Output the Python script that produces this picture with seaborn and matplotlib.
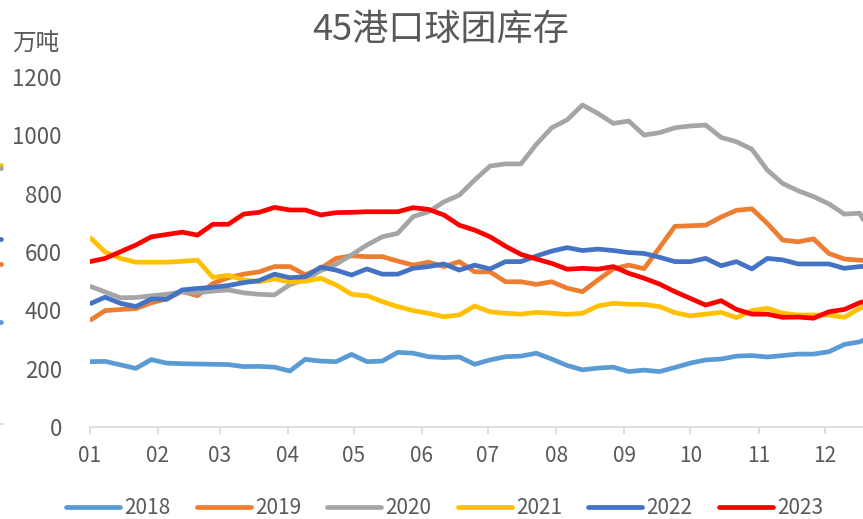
import numpy as np
import pandas as pd
import matplotlib
matplotlib.use("Agg")
import matplotlib.pyplot as plt
from matplotlib.lines import Line2D
import seaborn as sns

# ---------------- data ----------------
years = ["2018", "2019", "2020", "2021", "2022", "2023"]
week_dates = pd.date_range("2023-01-01", periods=52, freq="7D")
month_labels = ["01", "02", "03", "04", "05", "06", "07", "08", "09", "10", "11", "12"]
month_starts = pd.date_range("2023-01-01", periods=12, freq="MS")

v2018 = [224, 225, 213, 201, 231, 219, 217, 216, 215, 214,
         207, 208, 205, 192, 232, 226, 224, 249, 224, 226,
         256, 253, 241, 238, 240, 215, 230, 241, 243, 253,
         233, 211, 196, 202, 205, 190, 195, 190, 204, 219,
         230, 233, 243, 245, 240, 245, 250, 250, 258, 283,
         292, 315]
v2019 = [365, 399, 403, 406, 426, 439, 465, 450, 492, 512,
         524, 532, 550, 550, 522, 544, 578, 587, 584, 584,
         569, 555, 565, 550, 567, 532, 532, 498, 498, 489,
         498, 476, 464, 504, 542, 555, 543, 615, 688, 690,
         692, 720, 743, 748, 698, 641, 635, 645, 595, 576,
         572, 570]
v2020 = [483, 463, 443, 444, 450, 455, 463, 460, 466, 470,
         460, 455, 453, 488, 506, 536, 558, 590, 624, 652,
         664, 721, 738, 772, 795, 847, 895, 902, 902, 969,
         1026, 1053, 1104, 1075, 1041, 1049, 1001, 1009, 1026, 1032,
         1035, 993, 978, 952, 881, 835, 810, 790, 765, 730,
         733, 640]
v2021 = [651, 600, 578, 565, 565, 565, 568, 572, 513, 520,
         504, 498, 508, 497, 500, 510, 487, 455, 450, 430,
         413, 399, 390, 378, 384, 415, 395, 390, 387, 393,
         390, 386, 390, 415, 424, 421, 420, 413, 392, 381,
         387, 393, 375, 399, 407, 390, 384, 384, 384, 376,
         407, 425]
v2022 = [422, 445, 424, 413, 439, 438, 470, 475, 479, 485,
         495, 502, 524, 512, 515, 548, 538, 521, 542, 524,
         524, 544, 550, 559, 538, 555, 542, 567, 567, 586,
         603, 615, 605, 610, 605, 598, 595, 582, 567, 567,
         578, 553, 567, 542, 578, 573, 559, 559, 559, 544,
         550, 552]
v2023 = [567, 578, 601, 624, 652, 660, 668, 658, 695, 695,
         730, 736, 753, 744, 744, 727, 735, 736, 738, 738,
         738, 752, 746, 727, 692, 675, 652, 620, 592, 576,
         561, 541, 544, 541, 550, 527, 510, 490, 464, 441,
         418, 433, 403, 387, 387, 376, 377, 373, 395, 403,
         426, 440]

colors = ["#5B9BD5", "#ED7D31", "#A5A5A5", "#FFC000", "#4472C4", "#FF0000"]
y_ticks = [0, 200, 400, 600, 800, 1000, 1200]

# ---------------- build table ----------------
series = [v2018, v2019, v2020, v2021, v2022, v2023]
day_of_year = (week_dates - week_dates[0]).days.values
rows = []
for yr, vals in zip(years, series):
    for d, v in zip(day_of_year, vals):
        rows.append({"day": d, "value": v, "year": yr})
df = pd.DataFrame(rows)
month_pos = (month_starts - week_dates[0]).days.values

# ---------------- plot ----------------
sns.set_theme(style="white")
plt.rcParams["font.family"] = ["Noto Sans CJK SC", "DejaVu Sans"]

W, H = 863, 519
fig = plt.figure(figsize=(W / 100, H / 100), dpi=100)
left_px, right_px, top_px, bot_px = 89.7, 863, 77, 427
ax = fig.add_axes([left_px / W, 1 - bot_px / H, (right_px - left_px) / W, (bot_px - top_px) / H])

LW = 3.4
sns.lineplot(data=df, x="day", y="value", hue="year", hue_order=years,
             palette=colors, linewidth=LW, legend=False, ax=ax,
             solid_joinstyle="round", solid_capstyle="butt")

ax.set_xlim(0, (right_px - left_px) / 2.2)
ax.set_ylim(0, 1200)
ax.set_yticks(y_ticks)
ax.set_yticklabels([str(t) for t in y_ticks])
ax.set_xticks(month_pos)
ax.set_xticklabels(month_labels)
ax.set_xlabel("")
ax.set_ylabel("")
for s in ["left", "right", "top"]:
    ax.spines[s].set_visible(False)
ax.spines["bottom"].set_color("#D9D9D9")
ax.spines["bottom"].set_linewidth(1.2)
ax.grid(False)
ax.tick_params(axis="x", which="both", direction="out", length=5, width=1.2,
               color="#D9D9D9", labelcolor="#595959", labelsize=15, pad=8, bottom=True)
ax.tick_params(axis="y", length=0, labelcolor="#595959", labelsize=16, pad=20)

# title and unit
fig.text(441 / W, 1 - 30 / H, "45港口球团库存", ha="center", va="center",
         fontsize=26, color="#595959")
fig.text(12 / W, 1 - 43 / H, "万吨", ha="left", va="center", fontsize=17, color="#595959")

# legend
handles = [Line2D([0], [0], color=c, lw=LW, solid_capstyle="round") for c in colors]
fig.legend(handles, years, loc="center", bbox_to_anchor=(444.5 / W, 1 - 508 / H),
           ncol=6, frameon=False, handlelength=2.6, handletextpad=0.2,
           columnspacing=1.25, fontsize=15, labelcolor="#595959")

# fragments of a neighbouring chart at the left edge
frag = [(165, "#FFC000"), (168, "#A5A5A5"), (239, "#4472C4"), (264, "#ED7D31"), (322, "#5B9BD5")]
for yy, c in frag:
    fig.add_artist(Line2D([-6 / W, 1 / W], [1 - yy / H, 1 - yy / H], color=c, lw=LW,
                          solid_capstyle="round", transform=fig.transFigure))
fig.add_artist(Line2D([0, 3 / W], [1 - 424 / H, 1 - 424 / H], color="#D9D9D9", lw=1.2,
                      transform=fig.transFigure))

fig.savefig("out.png", dpi=100)
